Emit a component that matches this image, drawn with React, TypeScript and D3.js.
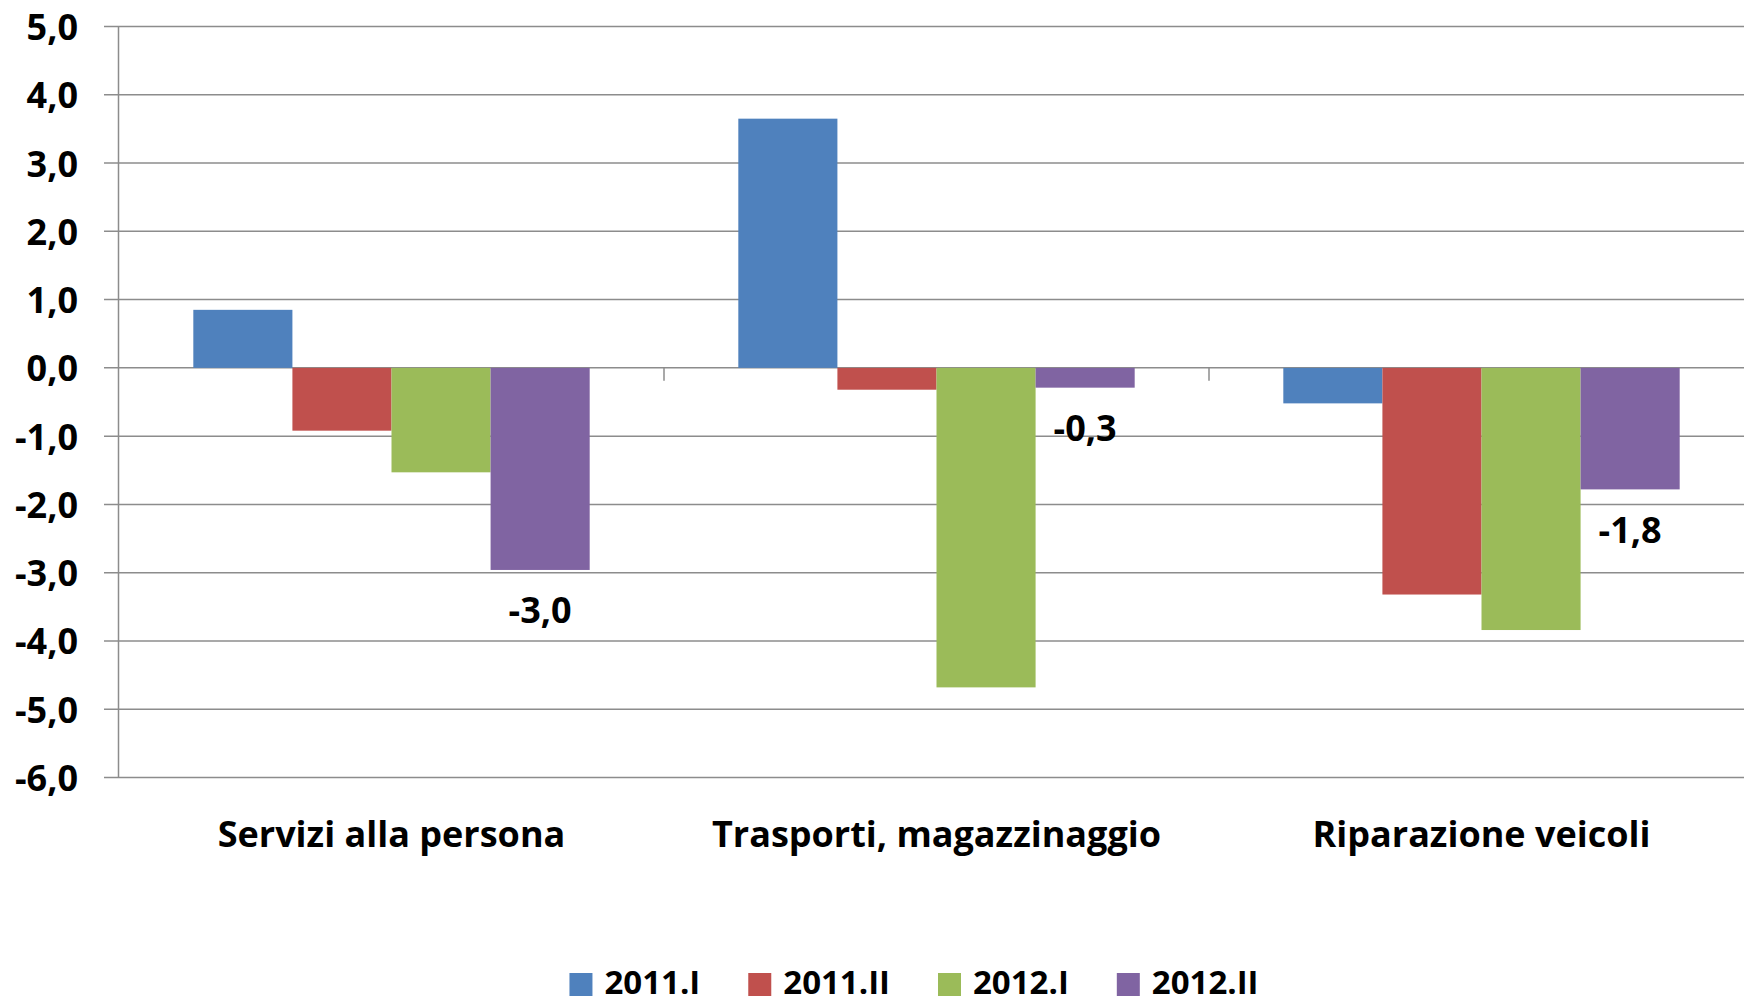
import React from "react";
import * as d3 from "d3";

const categories = ["Servizi alla persona", "Trasporti, magazzinaggio", "Riparazione veicoli"];
const seriesNames = ["2011.I", "2011.II", "2012.I", "2012.II"];
const colors = ["#4F81BD", "#C0504D", "#9BBB59", "#8064A2"];

const values2011I = [0.85, 3.65, -0.52];
const values2011II = [-0.92, -0.32, -3.32];
const values2012I = [-1.53, -4.68, -3.84];
const values2012II = [-2.96, -0.29, -1.78];

const yTicks = [5, 4, 3, 2, 1, 0, -1, -2, -3, -4, -5, -6];
const labelledSeries = "2012.II";

const seriesValues = [values2011I, values2011II, values2012I, values2012II];

const width = 1744;
const height = 1006;
const margin = { left: 119, right: -10, top: 26.5, bottom: 228.5 };
const font = "'Open Sans', sans-serif";

const fmt = (v: number) => d3.format(".1f")(v).replace(".", ",").replace("−", "-");

function measure(text: string, size: number) {
  const ctx = document.createElement("canvas").getContext("2d");
  if (!ctx) return text.length * size * 0.55;
  ctx.font = `700 ${size}px 'Open Sans'`;
  return ctx.measureText(text).width;
}

export default function App() {
  const plotW = width - margin.left - margin.right;
  const plotH = height - margin.top - margin.bottom;

  const x0 = d3.scaleBand<string>().domain(categories).range([0, plotW]).padding(0);
  const x1 = d3
    .scaleBand<string>()
    .domain(seriesNames)
    .range([0, x0.bandwidth()])
    .paddingInner(0)
    .paddingOuter(0.75);
  const y = d3.scaleLinear().domain([-6, 5]).range([plotH, 0]);

  // legend layout, centred under the chart
  const legendSize = 33;
  const sq = 23;
  const gapAfter = 48;
  const items = seriesNames.map(s => ({ name: s, w: measure(s, legendSize) }));
  const totalW = d3.sum(items, d => sq + 12 + d.w) + gapAfter * (items.length - 1);
  let cursor = 914 - totalW / 2;
  const legendItems = items.map((d, i) => {
    const item = { ...d, x: cursor, color: colors[i] };
    cursor += sq + 12 + d.w + gapAfter;
    return item;
  });

  return (
    <svg
      width={width}
      height={height}
      style={{ position: "absolute", left: 0, top: 0, background: "#fff" }}
      fontFamily={font}
      fontWeight={700}
    >
      <rect width={width} height={height} fill="#fff" />
      <g transform={`translate(${margin.left},${margin.top})`}>
        {yTicks.map(t => (
          <g key={t}>
            <line x1={-15} x2={plotW} y1={y(t)} y2={y(t)} stroke="#8c8c8c" strokeWidth={1.5} />
            <text x={-41} y={y(t)} textAnchor="end" dominantBaseline="central" fontSize={36} fill="#000">
              {fmt(t)}
            </text>
          </g>
        ))}
        <line x1={-0.5} x2={-0.5} y1={0} y2={plotH} stroke="#8c8c8c" strokeWidth={1.5} />
        {categories.slice(1).map(c => (
          <line key={c} x1={x0(c)} x2={x0(c)} y1={y(0)} y2={y(0) + 13} stroke="#8c8c8c" strokeWidth={1.5} />
        ))}

        {categories.map((c, ci) => (
          <g key={c} transform={`translate(${x0(c)},0)`}>
            {seriesNames.map((s, si) => {
              const v = seriesValues[si][ci];
              return (
                <rect
                  key={s}
                  x={x1(s)}
                  width={x1.bandwidth()}
                  y={Math.min(y(v), y(0))}
                  height={Math.abs(y(v) - y(0))}
                  fill={colors[si]}
                />
              );
            })}
            {seriesNames.map((s, si) => {
              if (s !== labelledSeries) return null;
              const v = seriesValues[si][ci];
              return (
                <text
                  key={s}
                  x={(x1(s) || 0) + x1.bandwidth() / 2}
                  y={y(v) + (v < 0 ? 40 : -40)}
                  textAnchor="middle"
                  dominantBaseline="central"
                  fontSize={36}
                  fill="#000"
                >
                  {fmt(v)}
                </text>
              );
            })}
            <text
              x={x0.bandwidth() / 2}
              y={plotH + 56}
              textAnchor="middle"
              dominantBaseline="central"
              fontSize={36}
              fill="#000"
            >
              {c}
            </text>
          </g>
        ))}
      </g>

      <g transform="translate(0,981)">
        {legendItems.map(d => (
          <g key={d.name} transform={`translate(${d.x},0)`}>
            <rect x={0} y={-8} width={sq} height={sq} fill={d.color} />
            <text x={sq + 12} y={0} dominantBaseline="central" fontSize={legendSize} fill="#000">
              {d.name}
            </text>
          </g>
        ))}
      </g>
    </svg>
  );
}
